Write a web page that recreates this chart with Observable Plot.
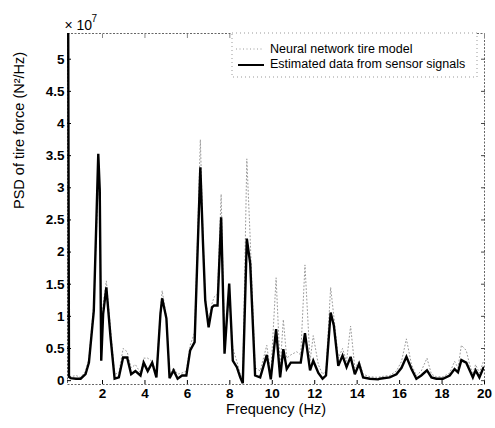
<!DOCTYPE html>
<html>
<head>
<meta charset="utf-8">
<script src="https://cdn.jsdelivr.net/npm/d3@7"></script>
<script src="https://cdn.jsdelivr.net/npm/@observablehq/plot@0.6"></script>
<style>
  html, body { margin: 0; padding: 0; background: #fff; }
  #chart { width: 495px; height: 428px; }
</style>
</head>
<body>
<div id="chart"></div>
<script>
// Frequency (Hz) of the estimated PSD samples
const estFreq = [0.38, 0.42, 0.5, 0.75, 0.97, 1.2, 1.36, 1.59, 1.8, 1.87, 1.94, 2.03, 2.18, 2.38, 2.57, 2.77, 2.97, 3.16, 3.35, 3.55, 3.79, 3.94, 4.13, 4.34, 4.54, 4.73, 4.81, 5.01, 5.16, 5.35, 5.54, 5.75, 5.95, 6.13, 6.34, 6.45, 6.61, 6.73, 6.84, 7.0, 7.16, 7.26, 7.42, 7.59, 7.75, 7.97, 8.14, 8.33, 8.49, 8.61, 8.8, 8.96, 9.19, 9.43, 9.74, 9.93, 10.18, 10.37, 10.52, 10.68, 10.87, 11.15, 11.34, 11.54, 11.78, 11.93, 12.17, 12.37, 12.53, 12.75, 12.9, 13.11, 13.31, 13.5, 13.69, 13.89, 14.09, 14.28, 14.6, 14.99, 15.06, 15.53, 15.85, 16.09, 16.32, 16.56, 16.79, 17.02, 17.29, 17.5, 17.73, 18.04, 18.36, 18.59, 18.75, 18.91, 19.14, 19.3, 19.45, 19.58, 19.76, 19.95];
// Estimated data from sensor signals (x 10^7 N^2/Hz)
const estPsd = [6.0, 0.06, 0.04, 0.03, 0.03, 0.1, 0.28, 1.09, 3.53, 2.96, 0.31, 1.04, 1.45, 0.67, 0.03, 0.05, 0.36, 0.36, 0.1, 0.15, 0.08, 0.28, 0.15, 0.28, 0.05, 1.04, 1.28, 0.97, 0.04, 0.16, 0.03, 0.08, 0.08, 0.47, 0.6, 1.71, 3.32, 2.18, 1.25, 0.83, 1.14, 1.17, 1.17, 2.54, 0.42, 1.51, 0.31, 0.21, 0.05, -0.04, 2.21, 1.82, 0.08, 0.05, 0.4, 0.02, 0.8, 0.05, 0.49, 0.18, 0.28, 0.28, 0.28, 0.74, 0.16, 0.31, 0.12, 0.03, 0.08, 1.06, 0.86, 0.23, 0.39, 0.21, 0.37, 0.1, 0.26, 0.05, 0.03, 0.02, 0.03, 0.05, 0.1, 0.2, 0.37, 0.18, 0.03, 0.08, 0.16, 0.05, 0.03, 0.03, 0.08, 0.18, 0.13, 0.32, 0.28, 0.16, 0.05, 0.16, 0.05, 0.2];
// Neural network tire model (x 10^7 N^2/Hz), same frequencies
const nnPsd = [6.0, 0.1, 0.06, 0.08, 0.05, 0.15, 0.35, 1.2, 3.1, 3.0, 0.45, 1.2, 1.55, 0.8, 0.1, 0.12, 0.5, 0.45, 0.2, 0.25, 0.12, 0.35, 0.35, 0.3, 0.1, 1.1, 1.4, 1.0, 0.1, 0.2, 0.1, 0.12, 0.15, 0.55, 0.75, 1.9, 3.75, 2.3, 1.3, 0.95, 1.2, 1.3, 1.35, 2.9, 0.6, 1.3, 0.5, 0.3, 0.1, 0.05, 3.45, 2.2, 0.2, 0.15, 0.55, 0.1, 1.6, 0.2, 0.95, 0.35, 0.4, 0.45, 0.4, 1.8, 0.3, 0.7, 0.25, 0.1, 0.15, 1.45, 1.0, 0.35, 0.5, 0.3, 0.85, 0.2, 0.3, 0.1, 0.06, 0.05, 0.06, 0.08, 0.15, 0.3, 0.65, 0.25, 0.08, 0.15, 0.35, 0.1, 0.06, 0.06, 0.12, 0.3, 0.2, 0.55, 0.47, 0.25, 0.1, 0.25, 0.12, 0.3];

const xTicks = [2, 4, 6, 8, 10, 12, 14, 16, 18, 20];
const yTicks = [0, 0.5, 1, 1.5, 2, 2.5, 3, 3.5, 4, 4.5, 5];
const seriesNames = ["Neural network tire model", "Estimated data from sensor signals"];
const xLabel = "Frequency (Hz)";
const yLabel = "PSD of tire force (N\u00B2/Hz)";
const exponentLabel = "\u00D7 10";
const exponentSup = "7";

const nnData = estFreq.map((f, i) => ({f, v: nnPsd[i]}));
const estData = estFreq.map((f, i) => ({f, v: estPsd[i]}));

const font = "'Liberation Sans', Arial, Helvetica, sans-serif";

const chart = Plot.plot({
  width: 495,
  height: 428,
  marginLeft: 67,
  marginRight: 11,
  marginTop: 33,
  marginBottom: 44,
  x: {domain: [0.35, 20], ticks: xTicks},
  y: {domain: [-0.06, 5.4], ticks: yTicks},
  style: {fontFamily: font, fontSize: "13px", color: "#000", background: "#fff", overflow: "visible"},
  marks: [
    Plot.frame({stroke: "#666", strokeWidth: 1, strokeDasharray: "2,1.5"}),
    Plot.axisX({ticks: xTicks, anchor: "bottom", tickSize: -4, tickPadding: 8, label: null, fontSize: 13.5, fontWeight: "bold", tickFormat: d => d}),
    Plot.axisX({ticks: xTicks, anchor: "top", tickSize: -4, label: null, tickFormat: () => "", stroke: "#888"}),
    Plot.axisY({ticks: yTicks, anchor: "left", tickSize: -4, tickPadding: 7, label: null, fontSize: 13.5, fontWeight: "bold", tickFormat: d => d}),
    Plot.axisY({ticks: yTicks, anchor: "right", tickSize: -4, label: null, tickFormat: () => "", stroke: "#444"}),
    Plot.line(nnData, {x: "f", y: "v", stroke: "#9a9a9a", strokeWidth: 1, strokeDasharray: "1,2.5", clip: true}),
    Plot.line(estData, {x: "f", y: "v", stroke: "#000", strokeWidth: 2.4, strokeLinejoin: "miter", strokeMiterlimit: 3, clip: true}),
    Plot.text([xLabel], {frameAnchor: "bottom", dy: 29, fontSize: 14.5, fontFamily: font}),
    Plot.text([yLabel], {frameAnchor: "left", dx: -48, rotate: -90, fontSize: 14.5, fontFamily: font}),
    Plot.text([exponentLabel], {frameAnchor: "top-left", dy: -13, dx: -3, textAnchor: "start", fontSize: 14, fontFamily: font}),
    Plot.text([exponentSup], {frameAnchor: "top-left", dy: -19, dx: 24, textAnchor: "start", fontSize: 10, fontFamily: font})
  ]
});

document.getElementById("chart").appendChild(chart);

// Legend box (top-right, inside the plot)
const svg = d3.select(chart);
const lg = svg.append("g").attr("font-family", font).attr("font-size", 12.5).attr("text-anchor", "start");
lg.append("rect").attr("x", 232).attr("y", 33).attr("width", 245).attr("height", 44)
  .attr("fill", "#fff").attr("stroke", "#999").attr("stroke-dasharray", "1,3");
lg.append("line").attr("x1", 236).attr("x2", 263).attr("y1", 49).attr("y2", 49)
  .attr("stroke", "#9a9a9a").attr("stroke-dasharray", "1,2.5");
lg.append("line").attr("x1", 238).attr("x2", 264).attr("y1", 65).attr("y2", 65)
  .attr("stroke", "#000").attr("stroke-width", 2);
lg.append("text").attr("x", 270).attr("y", 53).attr("text-anchor", "start").text(seriesNames[0]);
lg.append("text").attr("x", 270).attr("y", 68).attr("text-anchor", "start").text(seriesNames[1]);
</script>
</body>
</html>
